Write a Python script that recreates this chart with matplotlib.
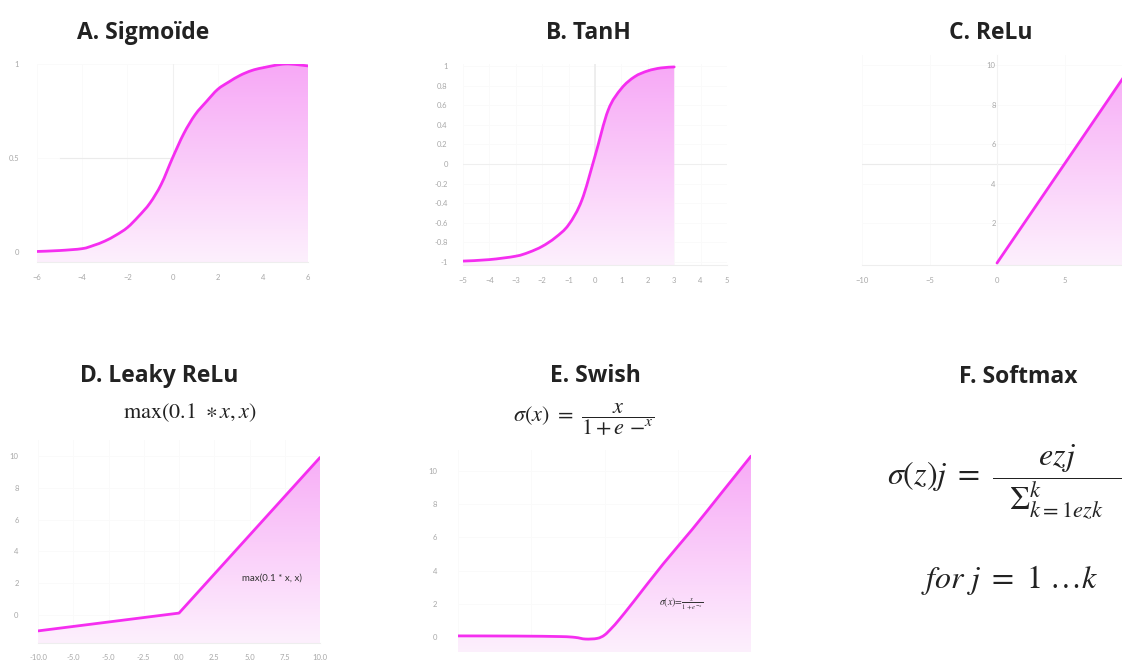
import numpy as np
import matplotlib
matplotlib.use("Agg")
import matplotlib.pyplot as plt
from matplotlib.colors import LinearSegmentedColormap
from matplotlib.path import Path
from matplotlib.patches import PathPatch

plt.rcParams['mathtext.fontset'] = 'stix'
plt.rcParams['font.family'] = ['Lato', 'DejaVu Sans']

# ---------------- data ----------------
sig_x = [-6, -5, -4, -3.5, -3, -2.5, -2, -1.5, -1, -0.5, 0,
         0.5, 1, 1.5, 2, 2.5, 3, 3.5, 4, 5, 6]
sig_y = [0.003, 0.008, 0.018, 0.035, 0.058, 0.09, 0.13, 0.19,
         0.26, 0.36, 0.5, 0.63, 0.73, 0.80, 0.865, 0.905, 0.94, 0.965, 0.98,
         1.0, 0.99]

tanh_x = [-5, -4, -3, -2.5, -2, -1.5, -1, -0.5, 0,
          0.5, 1, 1.5, 2, 2.5, 3]
tanh_y = [-0.99, -0.975, -0.94, -0.9, -0.84, -0.75, -0.62,
          -0.37, 0.08, 0.55, 0.77, 0.89, 0.95, 0.98, 0.99]

relu_x = [0, 10]
relu_y = [0, 10]

leaky_x = [-10, 0, 10]
leaky_y = [-1.0, 0.12, 9.9]

swish_x = [-10, -6, -3, -2, -1.3, -0.5, 0, 0.5, 1, 2, 4, 6, 8, 10]
swish_y = [0.07, 0.06, 0.03, -0.02, -0.12, -0.08, 0.12,
           0.55, 1.05, 2.15, 4.4, 6.5, 8.7, 10.9]

titles = ["A. Sigmoïde", "B. TanH", "C. ReLu", "D. Leaky ReLu", "E. Swish", "F. Softmax"]
leaky_xticklabels = ["-10.0", "-5.0", "-5.0", "-2.5", "0.0", "2.5", "5.0", "7.5", "10.0"]

# ---------------- styling ----------------
W, H = 1122, 661
fig = plt.figure(figsize=(W / 100, H / 100), dpi=100)
fig.patch.set_facecolor('white')

LINE = '#f52ef0'
cmap = LinearSegmentedColormap.from_list('pinkgrad', ['#fdf0fd', '#f7a8f6'])
TICKC = '#a8a8a8'
TICKFS = 5.5


def px_axes(left, top, right, bottom):
    return fig.add_axes([left / W, 1 - bottom / H, (right - left) / W, (bottom - top) / H])


def style(ax, xlim, ylim, xpad=8, ypad=9):
    ax.set_xlim(*xlim)
    ax.set_ylim(*ylim)
    for s in ['top', 'right', 'left']:
        ax.spines[s].set_visible(False)
    ax.spines['bottom'].set_color('#eeeeee')
    ax.tick_params(length=0, labelsize=TICKFS, colors=TICKC)
    ax.tick_params(axis='x', pad=xpad)
    ax.tick_params(axis='y', pad=ypad)
    ax.grid(True, color='#fafafa', lw=0.7)
    ax.set_axisbelow(True)
    ax.set_facecolor('none')


def curve_path(x, y, smooth):
    P = np.column_stack([x, y]).astype(float)
    n = len(P)
    verts = [P[0]]
    codes = [Path.MOVETO]
    for i in range(n - 1):
        if smooth:
            p0 = P[i - 1] if i > 0 else P[i]
            p1, p2 = P[i], P[i + 1]
            p3 = P[i + 2] if i + 2 < n else P[i + 1]
            verts += [p1 + (p2 - p0) / 6, p2 - (p3 - p1) / 6, p2]
            codes += [Path.CURVE4] * 3
        else:
            verts.append(P[i + 1])
            codes.append(Path.LINETO)
    return verts, codes


def draw_curve(ax, x, y, ybottom, smooth=True):
    verts, codes = curve_path(x, y, smooth)
    fverts = verts + [(x[-1], ybottom), (x[0], ybottom), verts[0]]
    fcodes = codes + [Path.LINETO, Path.LINETO, Path.CLOSEPOLY]
    fill_path = Path(fverts, fcodes)
    xl, yl = ax.get_xlim(), ax.get_ylim()
    grad = np.linspace(0, 1, 256).reshape(-1, 1)
    im = ax.imshow(grad, extent=[xl[0], xl[1], yl[0], yl[1]], origin='lower',
                   aspect='auto', cmap=cmap, zorder=1.5)
    im.set_clip_path(fill_path, transform=ax.transData)
    ax.add_patch(PathPatch(Path(verts, codes), fill=False, edgecolor=LINE, lw=2,
                           zorder=3, capstyle='round', joinstyle='round'))
    ax.set_xlim(*xl)
    ax.set_ylim(*yl)


# ---------------- A. Sigmoid ----------------
axA = px_axes(37, 64, 308, 262)
style(axA, (-6, 6), (-0.053, 1.0), xpad=9, ypad=13)
axA.set_xticks([-6, -4, -2, 0, 2, 4, 6])
axA.set_yticks([0, 0.5, 1])
axA.set_yticklabels(['0', '0.5', '1'])
axA.plot([-5, 0], [0.5, 0.5], color='#ebebeb', lw=0.8, zorder=1)
axA.axvline(0, color='#f0f0f0', lw=0.8, zorder=1)
draw_curve(axA, sig_x, sig_y, -0.053)

# ---------------- B. TanH ----------------
axB = px_axes(463, 64, 727, 265)
style(axB, (-5, 5), (-1.03, 1.02), xpad=9, ypad=11)
axB.set_xticks(range(-5, 6))
yt = [1, 0.8, 0.6, 0.4, 0.2, 0, -0.2, -0.4, -0.6, -0.8, -1]
axB.set_yticks(yt)
axB.set_yticklabels(['1', '0.8', '0.6', '0.4', '0.2', '0', '-0.2', '-0.4', '-0.6', '-0.8', '-1'])
axB.axhline(0, color='#efefef', lw=0.8, zorder=1)
axB.axvline(0, color='#ebebeb', lw=1.2, zorder=1)
draw_curve(axB, tanh_x, tanh_y, -1.03)

# ---------------- C. ReLu ----------------
axC = px_axes(862, 55, 1132, 265)
style(axC, (-10, 10), (-0.1, 10.5), xpad=9, ypad=1)
axC.set_xticks([-10, -5, 0, 5])
axC.set_yticks([2, 4, 6, 8, 10])
axC.spines['left'].set_visible(True)
axC.spines['left'].set_position(('data', 0))
axC.spines['left'].set_color('#f2f2f2')
axC.axhline(5, color='#ebebeb', lw=0.8, zorder=1)
draw_curve(axC, relu_x, relu_y, -0.1, smooth=False)

# ---------------- D. Leaky ReLu ----------------
axD = px_axes(38, 440, 320, 643)
style(axD, (-10, 10), (-1.76, 11.0), xpad=8, ypad=14)
axD.set_xticks([-10, -7.5, -5, -2.5, 0, 2.5, 5, 7.5, 10])
axD.set_xticklabels(leaky_xticklabels)
axD.set_yticks([0, 2, 4, 6, 8, 10])
draw_curve(axD, leaky_x, leaky_y, -1.76, smooth=False)
axD.text(6.6, 2.3, 'max(0.1 * x, x)', fontsize=7, color='#333333',
         ha='center', va='center', zorder=4)

# ---------------- E. Swish ----------------
axE = px_axes(458, 450, 751, 652)
style(axE, (-10, 10), (-0.9, 11.27), xpad=8, ypad=15)
axE.set_xticks([-10, -5, 0, 5, 10])
axE.set_xticklabels([])
axE.set_yticks([0, 2, 4, 6, 8, 10])
axE.spines['bottom'].set_visible(False)
draw_curve(axE, swish_x, swish_y, -0.9)
axE.text(5.2, 2.0, r'$\sigma(x)\!=\!\frac{x}{1+e^{-x}}$', fontsize=7,
         color='#333333', ha='center', va='center', zorder=4)

# ---------------- titles ----------------
title_pos = [(143, 33), (588, 33), (991, 33), (159, 376), (595, 376), (1018, 377)]
for t, (x, y) in zip(titles, title_pos):
    fig.text(x / W, 1 - y / H, t, fontsize=16.5, fontweight='bold', color='#222222',
             ha='center', va='center', family=['Open Sans', 'DejaVu Sans'])

# ---------------- formulas ----------------
fig.text(190 / W, 1 - 413 / H, r'$\mathrm{max}(0.1\ \ast x, x)$', fontsize=16,
         color='#222222', ha='center', va='center')
fig.text(584 / W, 1 - 420 / H, r'$\sigma(x)\ =\ \dfrac{x}{1+e\ {-}^{x}}$', fontsize=16,
         color='#222222', ha='center', va='center')
fig.text(887 / W, 1 - 482 / H,
         r'$\sigma(z)j\ =\ \dfrac{\ \ \ \ \ \ ezj\ \ \ \ \ \ }{\Sigma_{k=1ezk}^{k}}$',
         fontsize=23, color='#222222', ha='left', va='center')
fig.text(1010 / W, 1 - 580 / H, r'$for\ j\ =\ 1\ \ldots k$', fontsize=23,
         color='#222222', ha='center', va='center')

fig.savefig('out.png', dpi=100, facecolor='white')
